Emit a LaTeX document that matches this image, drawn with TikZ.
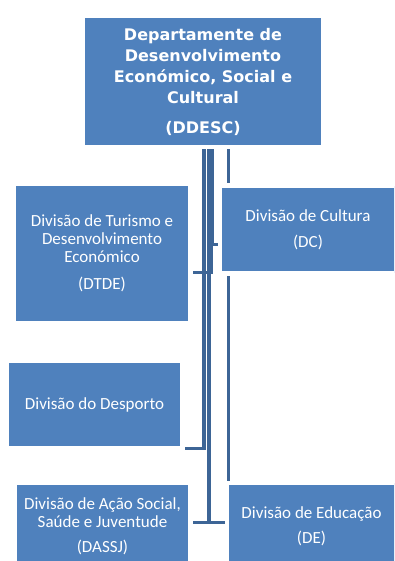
\documentclass[tikz,border=0pt]{standalone}
\usepackage{fontspec}
\setmainfont{Carlito}
\newfontfamily\headfont{DejaVu Sans}
\usetikzlibrary{backgrounds}
\definecolor{boxblue}{HTML}{4F81BD}
\definecolor{lineblue}{HTML}{3D6596}
\tikzset{
  box/.style={rectangle, fill=boxblue, draw=white, line width=4.5pt, text=white,
    align=center, inner sep=0pt, font=\fontsize{17}{18}\selectfont},
  headbox/.style={box, font=\headfont\bfseries\fontsize{16}{21}\selectfont},
  conn/.style={draw=lineblue, line width=3.8pt}
}
\begin{document}
\begin{tikzpicture}[x=1pt,y=-1pt]
\useasboundingbox (0,0) rectangle (394,561);
\clip (0,0) rectangle (394,561);
\node[headbox, minimum width=240.5pt, minimum height=131.5pt] (ddesc) at (203,81.5)
  {Departamente de\\Desenvolvimento\\Económico, Social e\\Cultural\\[9pt](DDESC)};
\node[box, minimum width=176.5pt, minimum height=139.5pt] (dtde) at (102,253.5)
  {Divisão de Turismo e\\Desenvolvimento\\Económico\\[9pt](DTDE)};
\node[box, minimum width=176.5pt, minimum height=87.5pt] (dc) at (308,229.5)
  {Divisão de Cultura\\[8pt](DC)};
\node[box, minimum width=175.5pt, minimum height=87.5pt] (desp) at (94.5,404.5)
  {Divisão do Desporto};
\node[box, minimum width=175.5pt, minimum height=86.5pt] (dassj) at (102.5,526)
  {Divisão de Ação Social,\\Saúde e Juventude\\[7pt](DASSJ)};
\node[box, minimum width=169.5pt, minimum height=86.5pt] (de) at (311.5,526)
  {Divisão de Educação\\[7pt](DE)};
\begin{scope}[on background layer]
  \coordinate (tj) at (209,522.5);
  \coordinate (lx) at ([xshift=25.5pt]ddesc.south);
  \draw[conn] (lx) -- (lx |- de.north);
  \draw[conn] ([xshift=6pt]ddesc.south) -- (tj);
  \draw[conn] (dassj.east |- tj) -- (de.west |- tj);
  \draw[conn] ([xshift=1pt]ddesc.south) |- ([yshift=-44pt]desp.east);
  \draw[conn] ([xshift=8pt]ddesc.south) |- ([yshift=-19pt]dtde.east);
  \draw[conn] ([xshift=9pt]ddesc.south) |- ([yshift=-15pt]dc.west);
\end{scope}
\end{tikzpicture}
\end{document}
